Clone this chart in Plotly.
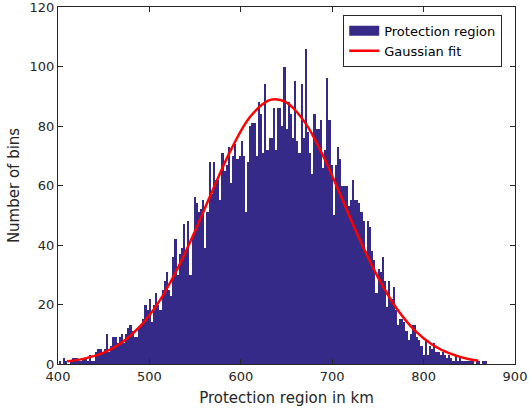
import numpy as np
import plotly.graph_objects as go

# ---- data ----
bin_start = 401.0
bin_width = 2.34
counts = [
    1, 0, 2, 1, 0, 1, 2, 2, 2, 1, 1, 2, 2, 1, 3, 1, 1,
    4, 5, 5, 4, 5, 10, 4, 6, 9, 9, 7, 9, 10, 7, 10, 12, 13, 11, 9, 9, 12, 13, 15,
    20, 18, 22,
    14, 20, 24, 20, 18, 25, 28, 31, 25, 23, 36, 42, 30, 37, 39, 47, 38, 48, 30, 43,
    56, 54, 51, 52, 55, 39, 51, 68, 57, 68, 62, 62, 55, 71, 65, 67, 73, 61, 70, 74, 69,
    70, 75, 70, 51, 68, 80, 81, 81, 70, 88, 84, 71, 94, 72, 76, 76, 86, 72, 86, 86,
    80, 100, 79, 88, 84, 76, 95, 75, 71, 94, 76, 106, 78, 71, 64, 84, 79, 79, 82, 66, 72, 96,
    82, 67, 50, 67, 73, 69, 60, 60, 60, 53, 55, 62, 55, 55, 54, 51, 48, 38, 48, 46,
    38, 35, 24, 32, 31, 36, 28, 19, 28, 22, 26, 18, 13, 15, 15, 14, 11, 8, 10, 13,
    13, 9, 8, 6, 3, 8, 3, 6, 5, 7, 4, 4, 3, 4, 3, 2, 3, 2, 1, 3, 1, 2, 1, 1, 1,
    1, 1, 1, 0, 1, 1, 0, 1, 1,
]
fit_x = [410, 430, 450, 470, 490, 510, 530, 550, 570, 590, 610, 630, 638, 650,
         670, 690, 710, 730, 750, 770, 790, 810, 830, 850, 860]
fit_y = [0.9, 1.9, 3.8, 7.2, 12.7, 20.7, 31.6, 44.7, 59.0, 72.5, 83.0, 88.5, 89.0, 87.9,
         81.3, 70.0, 56.1, 41.9, 29.2, 18.9, 11.4, 6.4, 3.4, 1.6, 1.1]
x_ticks = [400, 500, 600, 700, 800, 900]
y_ticks = [0, 20, 40, 60, 80, 100, 120]

centers = bin_start + bin_width * (np.arange(len(counts)) + 0.5)

bar_color = "rgb(53,42,135)"
axis_color = "#262626"
font_family = "DejaVu Sans, Liberation Sans, sans-serif"

fig = go.Figure()
fig.add_trace(go.Bar(
    x=centers, y=counts, width=bin_width,
    marker=dict(color=bar_color, line=dict(width=0)),
    name="Protection region", showlegend=False,
))
# legend-only entry giving a wide filled patch like the reference legend
fig.add_trace(go.Scatter(
    x=[None], y=[None], mode="lines", line=dict(color=bar_color, width=11),
    name="Protection region",
))
fig.add_trace(go.Scatter(
    x=fit_x, y=fit_y, mode="lines", line=dict(color="#ff0000", width=2.5, shape="spline"),
    name="Gaussian fit",
))

axis_common = dict(
    showline=True, linecolor=axis_color, linewidth=1, mirror="allticks",
    ticks="inside", ticklen=5, tickcolor=axis_color, tickwidth=1,
    showgrid=False, zeroline=False, automargin=False, ticklabeloverflow="allow",
    tickfont=dict(family=font_family, size=13, color=axis_color),
    title_font=dict(family=font_family, size=15, color=axis_color),
)
fig.update_xaxes(range=[400, 900], tickvals=x_ticks, title_text="Protection region in km",
                 title_standoff=9, **axis_common)
fig.update_yaxes(range=[0, 120], tickvals=y_ticks, title_text="Number of bins",
                 title_standoff=6, **axis_common)

fig.update_layout(
    width=529, height=413,
    margin=dict(l=58, r=14, t=7, b=49, autoexpand=False),
    paper_bgcolor="white", plot_bgcolor="white",
    bargap=0, showlegend=True,
    legend=dict(x=0.972, y=0.978, xanchor="right", yanchor="top",
                bgcolor="white", bordercolor=axis_color, borderwidth=1,
                font=dict(family=font_family, size=13, color="#000000"),
                tracegroupgap=0, itemwidth=30),
    font=dict(family=font_family),
)

fig.write_html("out.html")
